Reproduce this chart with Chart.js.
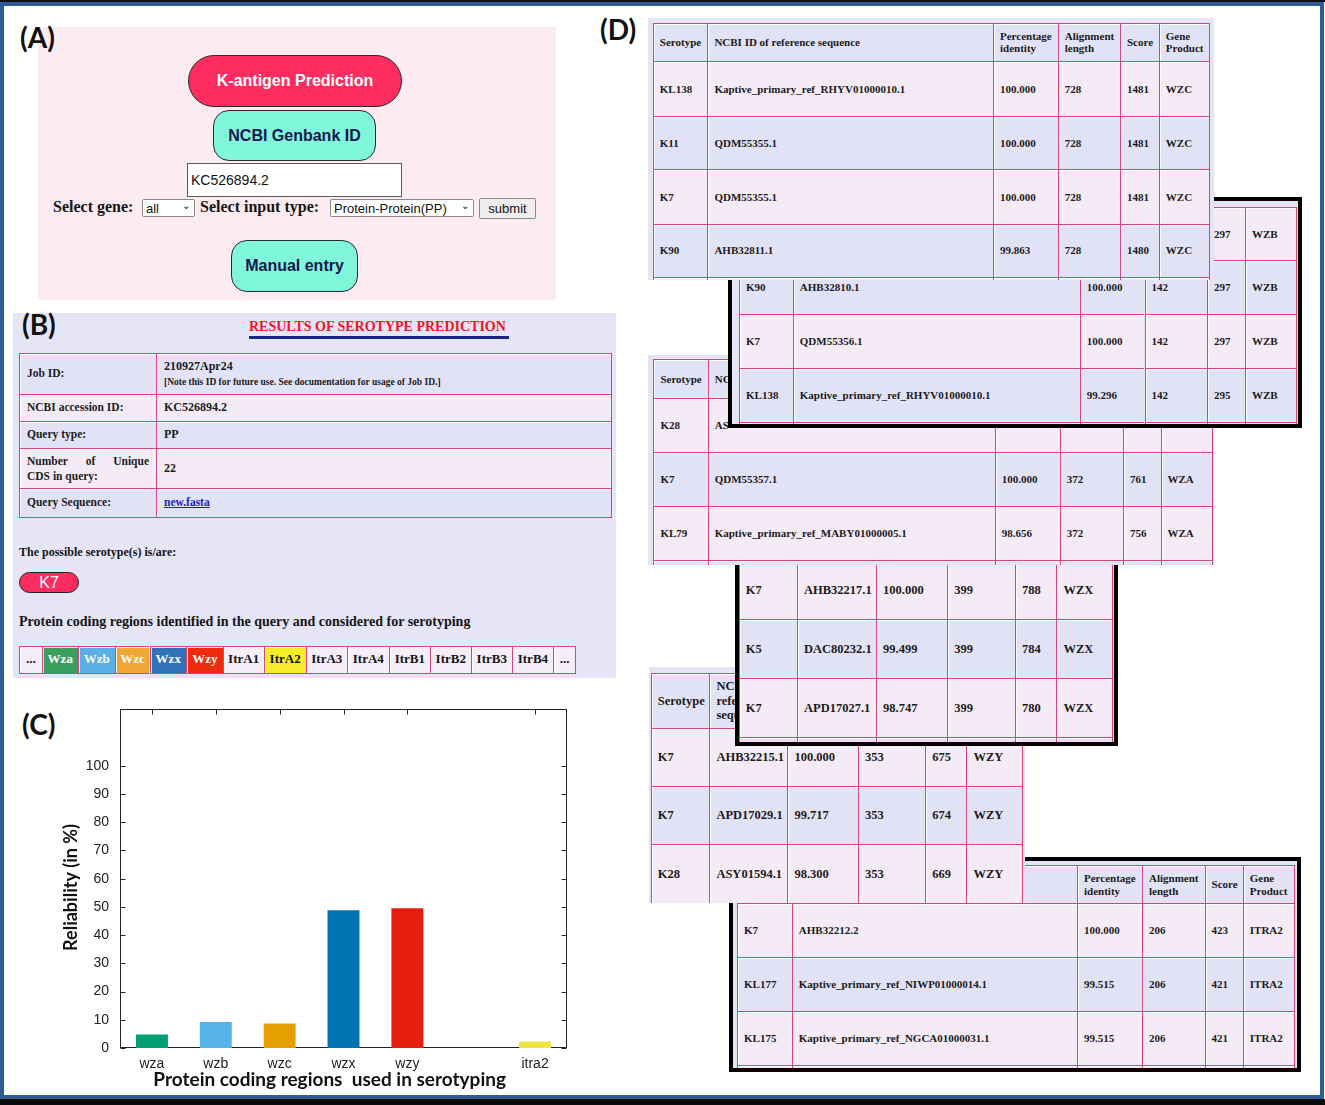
<!DOCTYPE html>
<html><head><meta charset="utf-8">
<script src="https://cdn.jsdelivr.net/npm/chart.js@4.4.1/dist/chart.umd.min.js"></script>
<style>
html,body{margin:0;padding:0;}
body{width:1325px;height:1105px;position:relative;overflow:hidden;background:#fff;font-family:"Liberation Serif","Times New Roman",serif;}
.abs{position:absolute;box-sizing:border-box;}
.lbl{position:absolute;font-family:Lato,"Open Sans",sans-serif;font-weight:700;font-size:28px;color:#111;line-height:1;}
.btn{position:absolute;box-sizing:border-box;display:flex;align-items:center;justify-content:center;font-family:"Liberation Sans",Arial,sans-serif;font-weight:700;font-size:16px;border:1.5px solid #2a2a2a;}
.ser{position:absolute;font-family:"Liberation Serif","Times New Roman",serif;font-weight:700;color:#151515;white-space:nowrap;line-height:1;}
.sel{position:absolute;box-sizing:border-box;background:#fff;border:1px solid #8a8a8a;border-radius:2px;font-family:"Liberation Sans",Arial,sans-serif;font-size:13px;color:#111;display:flex;align-items:center;padding-left:3px;}
.sel span.chev{position:absolute;right:4px;top:0px;font-size:10px;}
.cell{position:absolute;box-sizing:border-box;border-left:1.5px solid #d6437b;border-top:1.5px solid #d6437b;box-shadow:inset 1px 1px 0 rgba(255,255,255,.85);display:flex;align-items:center;padding-left:6px;padding-right:3px;font-family:"Liberation Serif","Times New Roman",serif;font-weight:700;color:#1b1b1b;line-height:1.15;overflow:hidden;white-space:nowrap;}
.cell.hd{white-space:normal;}
</style></head>
<body>
<!-- outer frame -->
<div class="abs" style="left:0;top:0;width:1325px;height:2px;background:#111;z-index:100"></div>
<div class="abs" style="left:0;top:2px;width:1324px;height:1097px;border:4px solid #2e5b94;z-index:100"></div>
<div class="abs" style="left:0;top:1099px;width:1325px;height:6px;background:#0a0a0a;z-index:100"></div>

<!-- Panel A -->
<div class="abs" style="left:38px;top:27px;width:518px;height:273px;background:#fcebf0"></div>
<div class="lbl" style="left:20px;top:23px">(A)</div>
<div class="btn" style="left:188px;top:55px;width:214px;height:52px;border-radius:26px;background:#ff2d5f;color:#fff">K-antigen Prediction</div>
<div class="btn" style="left:213px;top:110px;width:163px;height:51px;border-radius:16px;background:#80f7da;color:#161650">NCBI Genbank ID</div>
<div class="abs" style="left:187px;top:163px;width:215px;height:34px;background:#fff;border:1px solid #5a5a5a;font-family:'Liberation Sans',Arial,sans-serif;font-size:14px;color:#111;padding:8px 0 0 3px">KC526894.2</div>
<div class="ser" style="left:53px;top:199px;font-size:16px">Select gene:</div>
<div class="sel" style="left:142px;top:199px;width:53px;height:18px">all<span class="chev">&#8964;</span></div>
<div class="ser" style="left:200px;top:199px;font-size:16px">Select input type:</div>
<div class="sel" style="left:330px;top:199px;width:144px;height:18px">Protein-Protein(PP)<span class="chev">&#8964;</span></div>
<div class="sel" style="left:479px;top:198px;width:57px;height:21px;background:#efefef;justify-content:center;padding:0">submit</div>
<div class="btn" style="left:231px;top:240px;width:127px;height:52px;border-radius:16px;background:#80f7da;color:#161650">Manual entry</div>

<!-- Panel B -->
<div class="abs" style="left:13px;top:313px;width:603px;height:365px;background:#e5e5f7"></div>
<div class="lbl" style="left:22px;top:310px">(B)</div>
<div class="ser" style="left:249px;top:320px;font-size:14px;color:#f0141e">RESULTS OF SEROTYPE PREDICTION</div>
<div class="abs" style="left:249px;top:336px;width:260px;height:3px;background:#1c2580"></div>
<div id="btable"></div>
<div class="ser" style="left:19px;top:546px;font-size:12px">The possible serotype(s) is/are:</div>
<div class="abs" style="left:19px;top:572px;width:60px;height:21px;border-radius:11px;background:#ff2d5f;border:1.5px solid #222;color:#fff;font-family:'Liberation Sans',Arial,sans-serif;font-size:16px;display:flex;align-items:center;justify-content:center">K7</div>
<div class="ser" style="left:19px;top:615px;font-size:14px">Protein coding regions identified in the query and considered for serotyping</div>
<div id="strip"></div>

<!-- Panel C -->
<div class="lbl" style="left:22px;top:710px">(C)</div>
<div class="abs" style="left:0;top:690px;width:600px;height:400px"><canvas id="chart"></canvas></div>

<!-- Panel D -->
<div class="lbl" style="left:600px;top:15px">(D)</div>
<div id="dtables"></div>

<script>
// ---------- Chart data (panel C) ----------
const categories = ['wza', 'wzb', 'wzc', 'wzx', 'wzy', '', 'itra2'];
const reliability = [4.8, 9.2, 8.7, 48.8, 49.5, null, 2.3];
const barColors = ['#009e73', '#56b4e9', '#e69f00', '#0072b2', '#e51e10', '#ffffff', '#f0e442'];
const yTickValues = [0, 10, 20, 30, 40, 50, 60, 70, 80, 90, 100];
const yAxisMax = 120;
const xTitle = 'Protein coding regions  used in serotyping';
const yTitle = 'Reliability (in %)';

// ---------- Panel B contents ----------
const bRows = [
  ['Job ID:', 'JOB'],
  ['NCBI accession ID:', 'KC526894.2'],
  ['Query type:', 'PP'],
  ['Number of Unique CDS in query:', '22'],
  ['Query Sequence:', 'LINK']
];
const stripLabels = ['...', 'Wza', 'Wzb', 'Wzc', 'Wzx', 'Wzy', 'ItrA1', 'ItrA2', 'ItrA3', 'ItrA4', 'ItrB1', 'ItrB2', 'ItrB3', 'ItrB4', '...'];
const stripColors = ['#f4eef8', '#3a9f5d', '#5aafe7', '#efa634', '#2e73b7', '#ee2b10', '#f4eef8', '#f5ec2c', '#f4eef8', '#f4eef8', '#f4eef8', '#f4eef8', '#f4eef8', '#f4eef8', '#f4eef8'];

// ---------- Panel D contents ----------
const hdr = ['Serotype', 'NCBI ID of reference sequence', 'Percentage identity', 'Alignment length', 'Score', 'Gene Product'];
const wzcRows = [
  ['KL138', 'Kaptive_primary_ref_RHYV01000010.1', '100.000', '728', '1481', 'WZC'],
  ['K11', 'QDM55355.1', '100.000', '728', '1481', 'WZC'],
  ['K7', 'QDM55355.1', '100.000', '728', '1481', 'WZC'],
  ['K90', 'AHB32811.1', '99.863', '728', '1480', 'WZC']
];
const wzbRows = [
  ['', '', '', '', '297', 'WZB'],
  ['K90', 'AHB32810.1', '100.000', '142', '297', 'WZB'],
  ['K7', 'QDM55356.1', '100.000', '142', '297', 'WZB'],
  ['KL138', 'Kaptive_primary_ref_RHYV01000010.1', '99.296', '142', '295', 'WZB']
];
const wzaRows = [
  ['K28', 'AS', '', '', '', ''],
  ['K7', 'QDM55357.1', '100.000', '372', '761', 'WZA'],
  ['KL79', 'Kaptive_primary_ref_MABY01000005.1', '98.656', '372', '756', 'WZA']
];
const wzxRows = [
  ['K7', 'AHB32217.1', '100.000', '399', '788', 'WZX'],
  ['K5', 'DAC80232.1', '99.499', '399', '784', 'WZX'],
  ['K7', 'APD17027.1', '98.747', '399', '780', 'WZX']
];
const wzyRows = [
  ['K7', 'AHB32215.1', '100.000', '353', '675', 'WZY'],
  ['K7', 'APD17029.1', '99.717', '353', '674', 'WZY'],
  ['K28', 'ASY01594.1', '98.300', '353', '669', 'WZY']
];
const itra2Rows = [
  ['K7', 'AHB32212.2', '100.000', '206', '423', 'ITRA2'],
  ['KL177', 'Kaptive_primary_ref_NIWP01000014.1', '99.515', '206', '421', 'ITRA2'],
  ['KL175', 'Kaptive_primary_ref_NGCA01000031.1', '99.515', '206', '421', 'ITRA2']
];

const LAV = '#e2e2f6', PINK = '#f5ebf6';

function mk(parent, cls, css, html) {
  const d = document.createElement('div');
  if (cls) d.className = cls;
  Object.assign(d.style, css);
  if (html !== undefined) d.innerHTML = html;
  parent.appendChild(d);
  return d;
}
const px = v => v + 'px';

// Panel B table
(function () {
  const root = document.getElementById('btable');
  const xs = [19, 156, 610];
  const ys = [353, 394, 421, 448, 488, 516];
  bRows.forEach((r, i) => {
    const bg = i % 2 === 0 ? LAV : PINK;
    for (let c = 0; c < 2; c++) {
      const d = mk(root, 'cell', {
        left: px(xs[c]), top: px(ys[i]), width: px(xs[c + 1] - xs[c] + (c === 1 ? 1.5 : 0)),
        height: px(ys[i + 1] - ys[i] + (i === bRows.length - 1 ? 1.5 : 0)),
        background: bg, fontSize: '11.5px', paddingLeft: '7px', paddingRight: '7px'
      });
      if (c === 1) d.style.borderRight = '1.5px solid #d6437b';
      if (i === bRows.length - 1) d.style.borderBottom = '1.5px solid #d6437b';
      let t = r[c];
      if (t === 'JOB') {
        d.style.flexDirection = 'column'; d.style.alignItems = 'flex-start'; d.style.justifyContent = 'center';
        d.innerHTML = '<div style="font-size:12px">210927Apr24</div><div style="font-size:9.5px;margin-top:3px">[Note this ID for future use. See documentation for usage of Job ID.]</div>';
      } else if (t === 'LINK') {
        d.innerHTML = '<span style="color:#1a1ad8;text-decoration:underline">new.fasta</span>';
      } else if (c === 0 && t.indexOf('Unique') >= 0) {
        d.style.whiteSpace = 'normal';
        d.style.flexDirection = 'column'; d.style.alignItems = 'stretch'; d.style.justifyContent = 'center';
        d.innerHTML = '<div style="width:100%;text-align:justify;text-align-last:justify;line-height:1.25">Number of Unique</div><div style="line-height:1.25">CDS in query:</div>';
      } else {
        d.textContent = t;
        if (c === 1) d.style.fontSize = '12px';
      }
    }
  });
})();

// Strip
(function () {
  const root = document.getElementById('strip');
  const xs = [19, 41.5, 78, 114.7, 149.5, 186, 222.6, 263.7, 305.6, 347, 388.7, 430, 470.5, 512, 552.8, 575];
  stripLabels.forEach((l, i) => {
    const colored = i >= 1 && i <= 5;
    const d = mk(root, 'cell', {
      left: px(xs[i]), top: '645.7px', width: px(xs[i + 1] - xs[i] + (i === stripLabels.length - 1 ? 1.5 : 0)), height: '28.5px',
      background: stripColors[i], color: colored ? '#fff' : '#151515', fontSize: '13px',
      justifyContent: 'center', padding: '0', borderBottom: '1.5px solid #d6437b'
    }, l);
    if (i === stripLabels.length - 1) d.style.borderRight = '1.5px solid #d6437b';
  });
})();

// Panel D tables
function buildTable(t) {
  const root = document.getElementById('dtables');
  const [x0, y0, x1, y1] = t.box;
  const bw = t.frame ? 4 : 0;
  const box = mk(root, 'abs', {
    left: px(x0), top: px(y0), width: px(x1 - x0), height: px(y1 - y0),
    background: '#e4e4f7', overflow: 'hidden', zIndex: t.z,
    border: t.frame ? '4px solid #000' : 'none'
  });
  const ox = x0 + bw, oy = y0 + bw;
  const rows = t.header ? [hdr].concat(t.rows) : t.rows;
  const hidden = t.hiddenHeader || [];
  for (let r = 0; r < t.ys.length - 1; r++) {
    const pink = (r % 2 === 1) !== !!t.startPink;
    const data = rows[r] || ['', '', '', '', '', ''];
    for (let c = 0; c < t.xs.length - 1; c++) {
      const d = mk(box, 'cell' + (t.header && r === 0 ? ' hd' : ''), {
        left: px(t.xs[c] - ox), top: px(t.ys[r] - oy),
        width: px(t.xs[c + 1] - t.xs[c]), height: px(t.ys[r + 1] - t.ys[r]),
        background: pink ? PINK : LAV, fontSize: t.fs + 'px'
      });
      if (c === t.xs.length - 2) { d.style.borderRight = '1.5px solid #d6437b'; d.style.width = px(t.xs[c + 1] - t.xs[c] + 1.5); }
      // header cells fully covered by the table stacked above are left empty
      d.textContent = (t.header && r === 0 && hidden.indexOf(c) >= 0) ? '' : data[c];
    }
  }
}
buildTable({ box: [648, 18, 1214, 280], z: 60, fs: 11, header: true,
  xs: [652.8, 707.4, 993, 1057.7, 1120, 1158.8, 1209], ys: [22.7, 61, 115.7, 169.3, 223.7, 276.7, 300], rows: wzcRows });
buildTable({ box: [728, 197, 1302, 428], z: 50, fs: 11, frame: true, startPink: true,
  xs: [739, 792.8, 1079.8, 1144.5, 1207, 1245, 1295.6], ys: [206.7, 260, 314, 368.3, 421.7, 450], rows: wzbRows });
buildTable({ box: [648, 355, 1214, 565], z: 40, fs: 11, header: true, hiddenHeader: [2, 3, 4, 5],
  xs: [653.4, 707.7, 994.8, 1059.8, 1123, 1160.5, 1211.4], ys: [359.3, 397.7, 451.7, 506, 560, 590], rows: wzaRows });
buildTable({ box: [735, 520, 1118.4, 746], z: 30, fs: 12.5, frame: true, startPink: true,
  xs: [738.7, 797, 876, 947.3, 1015, 1056.4, 1111.5], ys: [560.5, 619.3, 678.3, 736.7, 770], rows: wzxRows });
buildTable({ box: [648.7, 667.3, 1025, 902.7], z: 20, fs: 12.5, header: true, hiddenHeader: [2, 3, 4, 5],
  xs: [650.8, 709.4, 787.4, 858, 925.3, 966.5, 1021.6], ys: [672.7, 727.7, 786, 844.3, 902.7, 930], rows: wzyRows });
buildTable({ box: [729, 856.7, 1301.3, 1071.7], z: 10, fs: 11, frame: true, header: true, hiddenHeader: [0, 1],
  xs: [737, 791.8, 1077, 1142, 1204.6, 1242.8, 1294], ys: [865, 903.3, 957.3, 1011, 1065, 1090], rows: itra2Rows });

// ---------- Chart (panel C) ----------
const innerTicks = {
  id: 'innerTicks',
  beforeDatasetsDraw(chart) {
    const { ctx, chartArea: a, scales: { x, y } } = chart;
    ctx.save();
    ctx.strokeStyle = '#222';
    ctx.lineWidth = 1;
    const line = (x1, y1, x2, y2) => { ctx.beginPath(); ctx.moveTo(x1, y1); ctx.lineTo(x2, y2); ctx.stroke(); };
    const L = Math.round(a.left) + 0.5, R = Math.round(a.right) - 0.5, T = Math.round(a.top) + 0.5, B = Math.round(a.bottom) - 0.5;
    ctx.strokeRect(L, T, R - L, B - T);
    yTickValues.forEach(v => {
      const py = Math.round(y.getPixelForValue(v)) + 0.5;
      line(L, py, L + 5, py);
      line(R - 5, py, R, py);
    });
    categories.forEach((c, i) => {
      if (!c) return;
      const p = Math.round(x.getPixelForValue(i)) + 0.5;
      line(p, T, p, T + 5);
      line(p, B - 5, p, B);
    });
    ctx.restore();
  }
};

Chart.defaults.font.family = '"Liberation Sans", Arial, sans-serif';
new Chart(document.getElementById('chart'), {
  type: 'bar',
  data: {
    labels: categories,
    datasets: [{ data: reliability, backgroundColor: barColors, borderWidth: 0, barPercentage: 1, categoryPercentage: 0.5 }]
  },
  options: {
    responsive: true, maintainAspectRatio: false, animation: false,
    layout: { padding: { left: 0, top: 17, right: 33, bottom: 0 } },
    plugins: { legend: { display: false }, tooltip: { enabled: false } },
    scales: {
      x: {
        offset: true,
        grid: { display: false, drawTicks: false },
        border: { display: false },
        ticks: { color: '#222', font: { size: 14 }, padding: 8, maxRotation: 0, autoSkip: false },
        title: { display: true, text: xTitle + '      ', color: '#111', font: { family: 'Lato, "Open Sans", sans-serif', size: 19, weight: 'bold', lineHeight: 1 }, padding: { top: 0, bottom: 1 } },
        afterFit: s => { s.height = 42; }
      },
      y: {
        min: 0, max: yAxisMax,
        grid: { display: false, drawTicks: false },
        border: { display: false },
        afterBuildTicks: s => { s.ticks = yTickValues.map(v => ({ value: v })); },
        ticks: { color: '#222', font: { size: 14 }, padding: 11 },
        title: { display: true, text: yTitle + '    ', color: '#111', font: { family: 'Lato, "Open Sans", sans-serif', size: 18, weight: 'bold', lineHeight: 1 }, padding: { top: 62, bottom: 0 } },
        afterFit: s => { s.width = 120; }
      }
    }
  },
  plugins: [innerTicks]
});
</script>
</body></html>
